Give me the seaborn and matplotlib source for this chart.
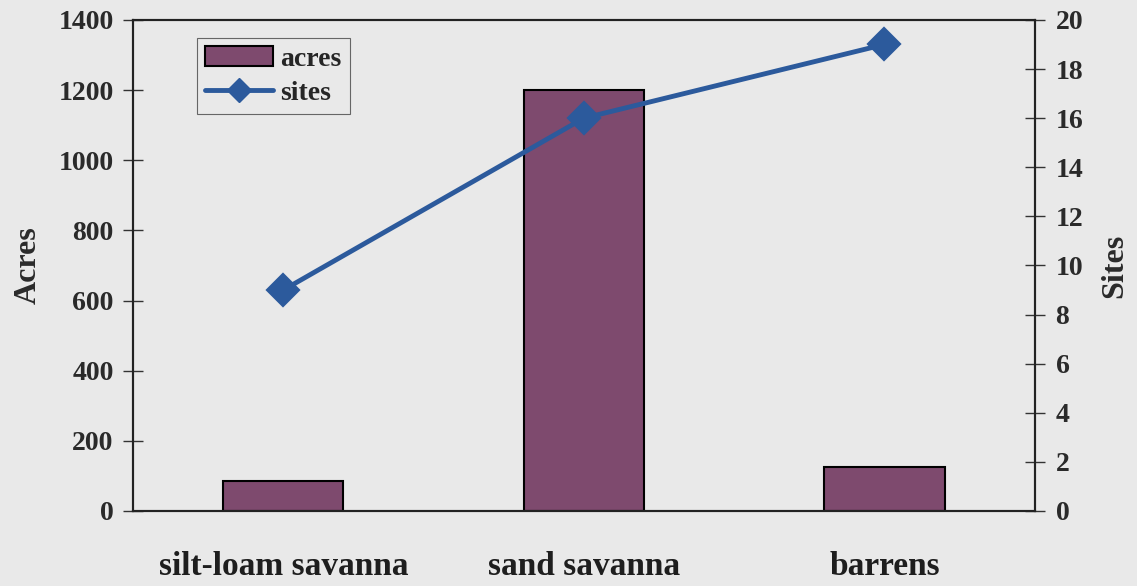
import matplotlib
matplotlib.use("Agg")
import matplotlib.pyplot as plt
import seaborn as sns
import pandas as pd
from matplotlib.lines import Line2D
from matplotlib.patches import Patch

categories = ["silt-loam savanna", "sand savanna", "barrens"]
acres = [85, 1200, 125]
sites = [9, 16, 19]
acres_ticks = [0, 200, 400, 600, 800, 1000, 1200, 1400]
sites_ticks = [0, 2, 4, 6, 8, 10, 12, 14, 16, 18, 20]

sns.set_style("white")
plt.rcParams["font.family"] = ["Liberation Serif", "DejaVu Serif"]
plt.rcParams["font.weight"] = "bold"

bg = "#e9e9e9"
bar_color = "#7e4a6e"
line_color = "#2c5a9c"
txt = "#2a2a2a"

df = pd.DataFrame({"category": categories, "acres": acres, "sites": sites})

fig = plt.figure(figsize=(11.37, 5.86), dpi=100, facecolor=bg)
ax = fig.add_axes([0.117, 0.128, 0.793, 0.838])
ax.set_facecolor(bg)

sns.barplot(data=df, x="category", y="acres", ax=ax, color=bar_color,
            width=0.4, edgecolor="black", linewidth=1.5, saturation=1)
ax.set_xlim(-0.5, 2.5)
ax.set_ylim(0, 1400)
ax.set_yticks(acres_ticks)
ax.set_yticklabels([str(t) for t in acres_ticks], fontsize=20, fontweight="bold", color=txt)
ax.set_xlabel("")
ax.set_ylabel("Acres", fontsize=23, fontweight="bold", color=txt, labelpad=11)
ax.tick_params(axis="x", which="major", length=0, pad=29, labelsize=24)
for lbl in ax.get_xticklabels():
    lbl.set_fontweight("bold")
    lbl.set_color("#1e1e1e")
ax.set_xticks([0.5, 1.5], minor=True)
ax.tick_params(axis="x", which="minor", direction="inout", length=14, width=1, color="#333333")
ax.tick_params(axis="y", direction="inout", length=14, width=1, color="#333333", pad=7)
for s in ax.spines.values():
    s.set_color("#222222")
    s.set_linewidth(1.5)

ax2 = ax.twinx()
sns.pointplot(data=df, x="category", y="sites", ax=ax2, color=line_color,
              markers="D", markersize=15, linewidth=3.5)
ax2.set_xlim(-0.5, 2.5)
ax2.set_ylim(0, 20)
ax2.set_yticks(sites_ticks)
ax2.set_yticklabels([str(t) for t in sites_ticks], fontsize=20, fontweight="bold", color=txt)
ax2.set_ylabel("Sites", fontsize=23, fontweight="bold", color=txt, labelpad=12)
ax2.tick_params(axis="y", direction="inout", length=14, width=1, color="#333333", pad=8)
for s in ax2.spines.values():
    s.set_color("#222222")
    s.set_linewidth(1.5)

handles = [Patch(facecolor=bar_color, edgecolor="black", linewidth=1.5, label="acres"),
           Line2D([0], [0], color=line_color, lw=3.5, marker="D", markersize=12, label="sites")]
leg = ax2.legend(handles=handles, loc="upper left", bbox_to_anchor=(0.071, 0.963),
                 frameon=True, fancybox=False, edgecolor="#666666", facecolor=bg,
                 framealpha=1, prop={"family": "Liberation Serif", "weight": "bold", "size": 20},
                 handlelength=2.45, handletextpad=0.25, borderpad=0.3, labelspacing=0.3,
                 borderaxespad=0)
leg.get_frame().set_linewidth(0.8)

fig.savefig("out.png", dpi=100, facecolor=bg)
